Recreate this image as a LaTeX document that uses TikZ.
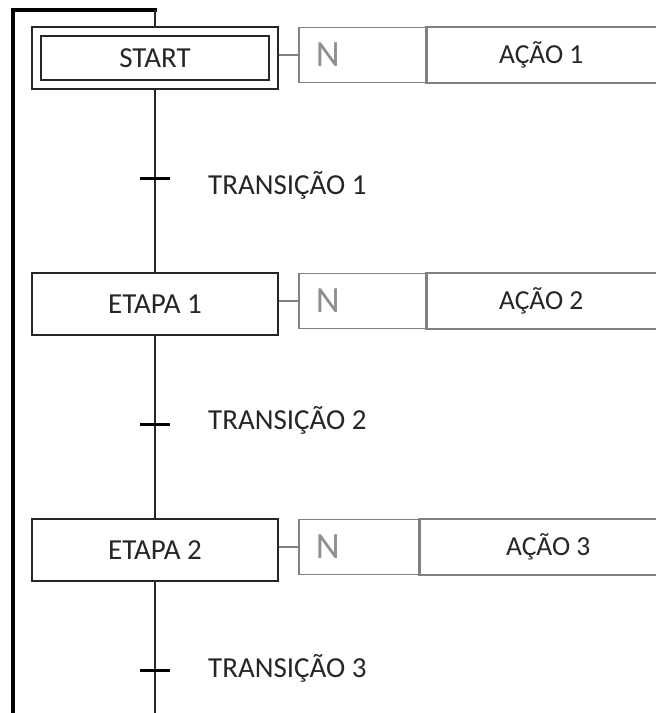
\documentclass[tikz,border=0pt]{standalone}
\usepackage{fontspec}
\setmainfont{Carlito}
\definecolor{ink}{HTML}{262626}
\definecolor{actgray}{HTML}{808080}
\definecolor{ngray}{HTML}{8F8F8F}
\begin{document}
\begin{tikzpicture}[x=1pt,y=-1pt,
  stepbox/.style={draw=ink, line width=1.4pt, minimum width=246pt, minimum height=62pt, inner sep=0pt, font=\fontsize{29}{32}\selectfont, text=ink},
  innerbox/.style={draw=ink, line width=1.4pt, minimum width=228pt, minimum height=44pt, inner sep=0pt, font=\fontsize{29}{32}\selectfont, text=ink},
  ncell/.style={draw=actgray, line width=1.8pt, minimum height=55pt, inner sep=0pt, anchor=west, text width=94pt, inner xsep=17pt, align=left, font=\fontsize{37}{40}\selectfont, text=ngray},
  actcell/.style={minimum height=55pt, inner sep=0pt, anchor=west, font=\fontsize{27.5}{30}\selectfont, text=ink},
  actline/.style={draw=actgray, line width=1.8pt},
  link/.style={draw=ink, line width=1.4pt},
  loopline/.style={draw=black, line width=3.2pt},
  ticksty/.style={draw=black, line width=3pt},
  translabel/.style={anchor=base west, inner sep=0pt, font=\fontsize{29}{32}\selectfont, text=ink},
  alink/.style={draw=actgray, line width=1.5pt}]
\useasboundingbox[fill=white] (0,0) rectangle (656,713);

% steps
\node[stepbox] (start) at (155,58) {};
\node[innerbox] (startin) at (155,58) {START};
\node[stepbox] (e1) at (155,304) {ETAPA 1};
\node[stepbox] (e2) at (155,550) {ETAPA 2};

% action blocks
\node[ncell, minimum width=128pt] (n1) at (298,55) {N};
\node[actcell, minimum width=230pt] (a1) at (426,55) {AÇÃO 1};
\node[ncell, minimum width=128pt] (n2) at (298,301) {N};
\node[actcell, minimum width=230pt] (a2) at (426,301) {AÇÃO 2};
\node[ncell, minimum width=121pt, text width=87pt] (n3) at (298,547) {N};
\node[actcell, minimum width=258pt] (a3) at (419,547) {AÇÃO 3};
\foreach \a in {a1,a2,a3}{
  \draw[actline] (\a.north east) -- (\a.north west) -- (\a.south west) -- (\a.south east);
}

% step to action links
\draw[alink] (start.east |- n1.west) -- (n1.west);
\draw[alink] (e1.east |- n2.west) -- (n2.west);
\draw[alink] (e2.east |- n3.west) -- (n3.west);

% coordinates
\coordinate (loopbot) at (13,713);
\coordinate (loopcorner) at (13,10);
\coordinate (looptop) at (155,10);
\coordinate (t1) at (155,178);
\coordinate (t2) at (155,424);
\coordinate (t3) at (155,670);
\coordinate (bottom) at (155,713);

% loop-back line
\draw[loopline, line cap=rect] (loopbot) -- (loopcorner) -- (looptop);

% main flow
\draw[link] (looptop) -- (start.north);
\draw[link] (start.south) -- (t1) -- (e1.north);
\draw[link] (e1.south) -- (t2) -- (e2.north);
\draw[link] (e2.south) -- (t3) -- (bottom);

% transitions
\foreach \t in {t1,t2,t3}{
  \draw[ticksty] ([xshift=-15pt]\t) -- ([xshift=15pt]\t);
}
\node[translabel] (l1) at (208,194) {TRANSIÇÃO 1};
\node[translabel] (l2) at (208,429) {TRANSIÇÃO 2};
\node[translabel] (l3) at (208,677) {TRANSIÇÃO 3};
\end{tikzpicture}
\end{document}
